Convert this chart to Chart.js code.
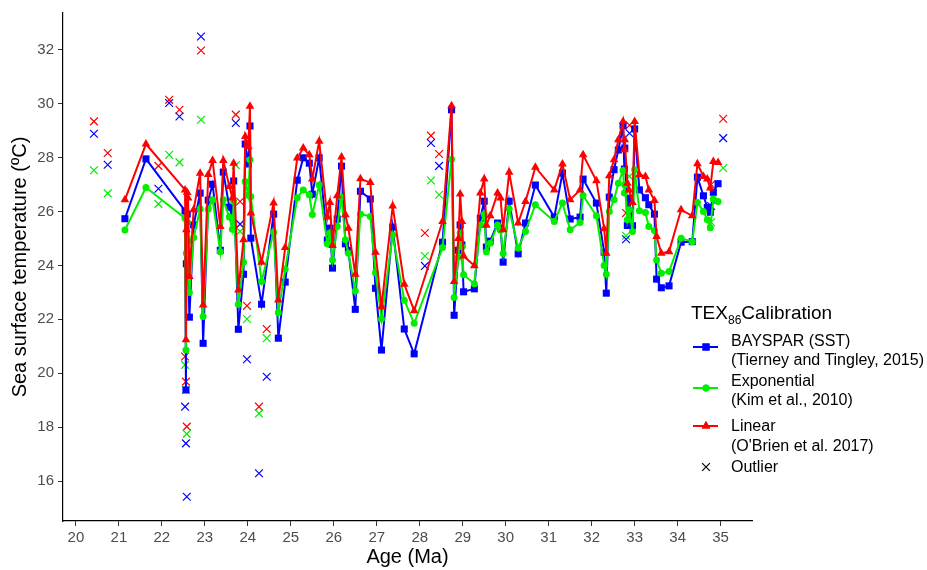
<!DOCTYPE html>
<html>
<head>
<meta charset="utf-8">
<script src="https://cdn.jsdelivr.net/npm/chart.js@4.4.0/dist/chart.umd.min.js"></script>
<style>
  body { margin: 0; background: #fff; font-family: "Liberation Sans", Arial, sans-serif; }
  #wrap { position: relative; width: 927px; height: 570px; }
  #legend div { position: absolute; white-space: nowrap; color: #000; font-size: 16px; line-height: 20px; }
</style>
</head>
<body>
<div id="wrap">
  <canvas id="chart" width="927" height="570"></canvas>
  <div id="legend">
    <div style="left:691px; top:302px; font-size:19px; line-height:22px;">TEX<sub style="font-size:12px; vertical-align:-5px;">86</sub>Calibration</div>
    <div style="left:731px; top:331px;">BAYSPAR (SST)</div>
    <div style="left:731px; top:350px;">(Tierney and Tingley, 2015)</div>
    <div style="left:731px; top:371px;">Exponential</div>
    <div style="left:731px; top:390px;">(Kim et al., 2010)</div>
    <div style="left:731px; top:416px;">Linear</div>
    <div style="left:731px; top:436px;">(O'Brien et al. 2017)</div>
    <div style="left:731px; top:457px;">Outlier</div>
  </div>
</div>
<script>
// -> Daten (Alter in Ma, SST in °C)
const ages = [
  21.14, 21.63, 22.54, 22.56, 22.57, 22.59, 22.61, 22.64, 22.74, 22.89,
  22.96, 23.08, 23.18, 23.36, 23.43, 23.57, 23.64, 23.67, 23.78, 23.90,
  23.94, 24.01, 24.05, 24.07, 24.32, 24.60, 24.71, 24.87, 25.15, 25.29,
  25.43, 25.50, 25.66, 25.85, 25.91, 25.97, 26.08, 26.18, 26.27, 26.34,
  26.50, 26.62, 26.85, 26.97, 27.11, 27.37, 27.64, 27.87, 28.53, 28.74,
  28.80, 28.90, 28.94, 28.98, 29.02, 29.27, 29.41, 29.50, 29.55, 29.64,
  29.81, 29.88, 29.94, 30.08, 30.29, 30.46, 30.69, 31.13, 31.32, 31.50,
  31.73, 31.80, 32.11, 32.29, 32.34, 32.41, 32.52, 32.62, 32.73, 32.76,
  32.77, 32.83, 32.87, 32.95, 33.00, 33.11, 33.25, 33.33, 33.46, 33.51,
  33.62, 33.80, 34.08, 34.34, 34.46, 34.60, 34.69, 34.76, 34.83, 34.94
];

const bayspar = [
  25.73, 27.95, 26.02, 19.38, 24.06, 25.90, 24.32, 22.08, 25.50, 26.68,
  21.11, 26.42, 27.01, 24.56, 27.46, 26.16, 25.79, 27.13, 21.63, 23.67,
  28.50, 27.76, 29.17, 25.01, 22.56, 25.90, 21.30, 23.38, 27.16, 27.99,
  27.79, 26.64, 27.99, 24.94, 25.38, 23.90, 25.72, 27.68, 24.80, 24.56,
  22.37, 26.75, 26.46, 23.15, 20.86, 25.42, 21.64, 20.72, 24.86, 29.77,
  22.15, 24.56, 25.50, 24.76, 23.02, 23.13, 25.75, 26.38, 24.68, 24.90,
  25.57, 25.38, 24.12, 26.38, 24.43, 25.57, 26.98, 25.79, 27.42, 25.72,
  25.79, 27.20, 26.31, 24.49, 22.97, 26.53, 27.55, 28.28, 29.18, 27.57,
  28.35, 25.48, 26.49, 25.47, 29.06, 26.80, 26.51, 26.25, 25.90, 23.49,
  23.17, 23.24, 24.86, 24.88, 27.27, 26.58, 26.15, 25.97, 26.71, 27.03
];

const exponential = [
  25.31, 26.89, 25.75, 20.86, 24.45, 25.60, 24.90, 22.99, 25.03, 26.09,
  22.10, 26.09, 26.43, 24.51, 26.43, 25.79, 25.34, 26.37, 22.56, 24.12,
  27.11, 26.60, 27.92, 26.55, 23.40, 25.23, 22.25, 23.87, 26.51, 26.80,
  26.62, 25.89, 26.98, 24.80, 25.20, 24.20, 25.44, 26.53, 24.95, 24.45,
  23.05, 25.91, 25.81, 23.73, 22.01, 25.13, 22.71, 21.85, 24.66, 27.94,
  22.81, 24.30, 25.20, 24.70, 23.65, 23.32, 25.50, 25.90, 24.51, 24.82,
  25.50, 25.30, 24.44, 26.10, 24.64, 25.26, 26.25, 25.63, 26.31, 25.32,
  25.59, 26.59, 25.84, 24.00, 23.67, 26.00, 26.43, 27.05, 27.52, 26.68,
  26.99, 25.69, 26.06, 25.26, 27.55, 26.03, 25.96, 25.44, 25.29, 24.20,
  23.71, 23.77, 25.01, 24.88, 26.33, 26.00, 25.69, 25.40, 26.46, 26.37
];

const linear = [
  26.43, 28.50, 26.80, 21.24, 25.32, 26.70, 26.50, 23.59, 26.06, 27.42,
  22.53, 27.37, 27.89, 25.44, 27.89, 26.93, 26.50, 27.79, 23.09, 24.95,
  28.78, 28.40, 29.90, 25.94, 24.12, 26.31, 22.72, 24.66, 27.98, 28.35,
  28.10, 27.20, 28.60, 25.79, 26.33, 24.74, 26.58, 28.02, 25.88, 25.38,
  23.67, 27.21, 27.07, 24.49, 22.47, 26.20, 23.30, 22.32, 25.63, 29.92,
  23.40, 25.00, 26.65, 25.63, 24.35, 23.99, 26.68, 27.20, 25.49, 25.84,
  26.68, 26.50, 25.32, 27.45, 25.57, 26.37, 27.64, 26.80, 27.76, 26.43,
  26.80, 28.10, 27.14, 25.36, 24.45, 27.32, 27.92, 28.66, 29.34, 28.29,
  28.66, 27.05, 26.80, 26.33, 29.34, 27.36, 27.30, 26.80, 26.41, 25.07,
  24.45, 24.51, 26.06, 25.84, 27.77, 27.30, 27.20, 26.87, 27.85, 27.82
];

// -> Ausreisser
const outAges = [20.42, 20.74, 21.92, 22.17, 22.41, 22.54, 22.56, 22.58, 22.91, 23.72, 23.82, 23.98, 24.26, 24.44, 28.12, 28.26, 28.45, 32.80, 32.88, 34.78, 35.06];
const outBayspar = [28.88, 27.73, 26.84, 30.02, 29.52, 18.76, 17.40, 15.42, 32.49, 29.28, 25.53, 20.52, 16.29, 19.87, 23.98, 28.54, 27.69, 24.97, 28.90, 26.20, 28.72];
const outExponential = [27.53, 26.67, 26.28, 28.10, 27.82, 20.31, 19.38, 17.75, 29.40, 27.72, 25.26, 22.01, 18.51, 21.30, 24.35, 27.15, 26.62, 25.10, 27.30, 25.60, 27.61];
const outLinear = [29.34, 28.17, 27.69, 30.14, 29.77, 20.62, 19.69, 18.02, 31.97, 29.59, 26.37, 22.50, 18.76, 21.64, 25.20, 28.81, 28.13, 25.94, 29.20, 27.00, 29.44];

// -> Achsen
const xTicks = [20, 21, 22, 23, 24, 25, 26, 27, 28, 29, 30, 31, 32, 33, 34, 35];
const yTicks = [16, 18, 20, 22, 24, 26, 28, 30, 32];

const BLUE = "#0000ff";
const GREEN = "#00ee00";
const RED = "#ff0000";

function toPoints(xs, ys) {
  return xs.map((x, i) => ({ x: x, y: ys[i] }));
}

function seriesSet(label, values, color, style, radius, order) {
  return {
    label: label,
    data: toPoints(ages, values),
    showLine: true,
    borderColor: color,
    backgroundColor: color,
    borderWidth: 2,
    pointStyle: style,
    pointRadius: radius,
    pointBorderWidth: 0,
    pointBackgroundColor: color,
    order: order
  };
}

function outlierSet(values, color, order) {
  return {
    label: "Outlier",
    data: toPoints(outAges, values),
    showLine: false,
    pointStyle: "crossRot",
    pointRadius: 5.5,
    pointBorderWidth: 1.2,
    pointBorderColor: color,
    borderColor: color,
    order: order
  };
}

// -> Legenden-Symbole
const legendSymbols = {
  id: "legendSymbols",
  afterDraw(chart) {
    const ctx = chart.ctx;
    const items = [
      { y: 347, color: BLUE, style: "rect", r: 5 },
      { y: 388, color: GREEN, style: "circle", r: 3.5 },
      { y: 426, color: RED, style: "triangle", r: 5 }
    ];
    ctx.save();
    items.forEach((it) => {
      ctx.strokeStyle = it.color;
      ctx.lineWidth = 2;
      ctx.beginPath();
      ctx.moveTo(693, it.y);
      ctx.lineTo(718, it.y);
      ctx.stroke();
      ctx.fillStyle = it.color;
      Chart.helpers.drawPoint(ctx, { pointStyle: it.style, radius: it.r, borderWidth: 0 }, 706, it.y);
      ctx.fill();
    });
    ctx.strokeStyle = "#000";
    ctx.lineWidth = 1.2;
    Chart.helpers.drawPoint(ctx, { pointStyle: "crossRot", radius: 5.5, borderWidth: 1.2 }, 706, 467);
    ctx.restore();
  }
};

Chart.defaults.font.family = '"Liberation Sans", Arial, sans-serif';

const canvas = document.querySelector("#chart");

const chart = new Chart(canvas, {
  type: "scatter",
  data: {
    datasets: [
      seriesSet("BAYSPAR (SST)", bayspar, BLUE, "rect", 5, 3),
      seriesSet("Exponential", exponential, GREEN, "circle", 3.5, 2),
      seriesSet("Linear", linear, RED, "triangle", 5, 1),
      outlierSet(outBayspar, BLUE, 4),
      outlierSet(outExponential, GREEN, 5),
      outlierSet(outLinear, RED, 6)
    ]
  },
  options: {
    responsive: false,
    animation: false,
    layout: { padding: { top: 13, right: 175, left: 0, bottom: 0 } },
    plugins: {
      legend: { display: false },
      tooltip: { enabled: false }
    },
    scales: {
      x: {
        type: "linear",
        min: 19.7,
        max: 35.73,
        afterBuildTicks: (s) => { s.ticks = xTicks.map((v) => ({ value: v })); },
        afterFit: (s) => { s.height = 49; },
        grid: { drawOnChartArea: false, drawTicks: true, tickLength: 5, color: "#333", lineWidth: 1 },
        border: { display: true, color: "#000", width: 1.2 },
        ticks: { color: "#4d4d4d", font: { size: 15 }, padding: 3, maxRotation: 0, autoSkip: false },
        title: { display: true, text: "Age (Ma)", color: "#000", font: { size: 20 }, padding: { top: 0, bottom: 1 } }
      },
      y: {
        type: "linear",
        min: 14.52,
        max: 33.36,
        afterBuildTicks: (s) => { s.ticks = yTicks.map((v) => ({ value: v })); },
        afterFit: (s) => { s.width = 63; },
        grid: { drawOnChartArea: false, drawTicks: true, tickLength: 5, color: "#333", lineWidth: 1 },
        border: { display: true, color: "#000", width: 1.2 },
        ticks: { color: "#4d4d4d", font: { size: 15 }, padding: 4 },
        title: { display: true, text: "Sea surface temperature (ºC)", color: "#000", font: { size: 20 }, padding: { top: 8, bottom: 0 } }
      }
    }
  },
  plugins: [legendSymbols]
});
</script>
</body>
</html>
